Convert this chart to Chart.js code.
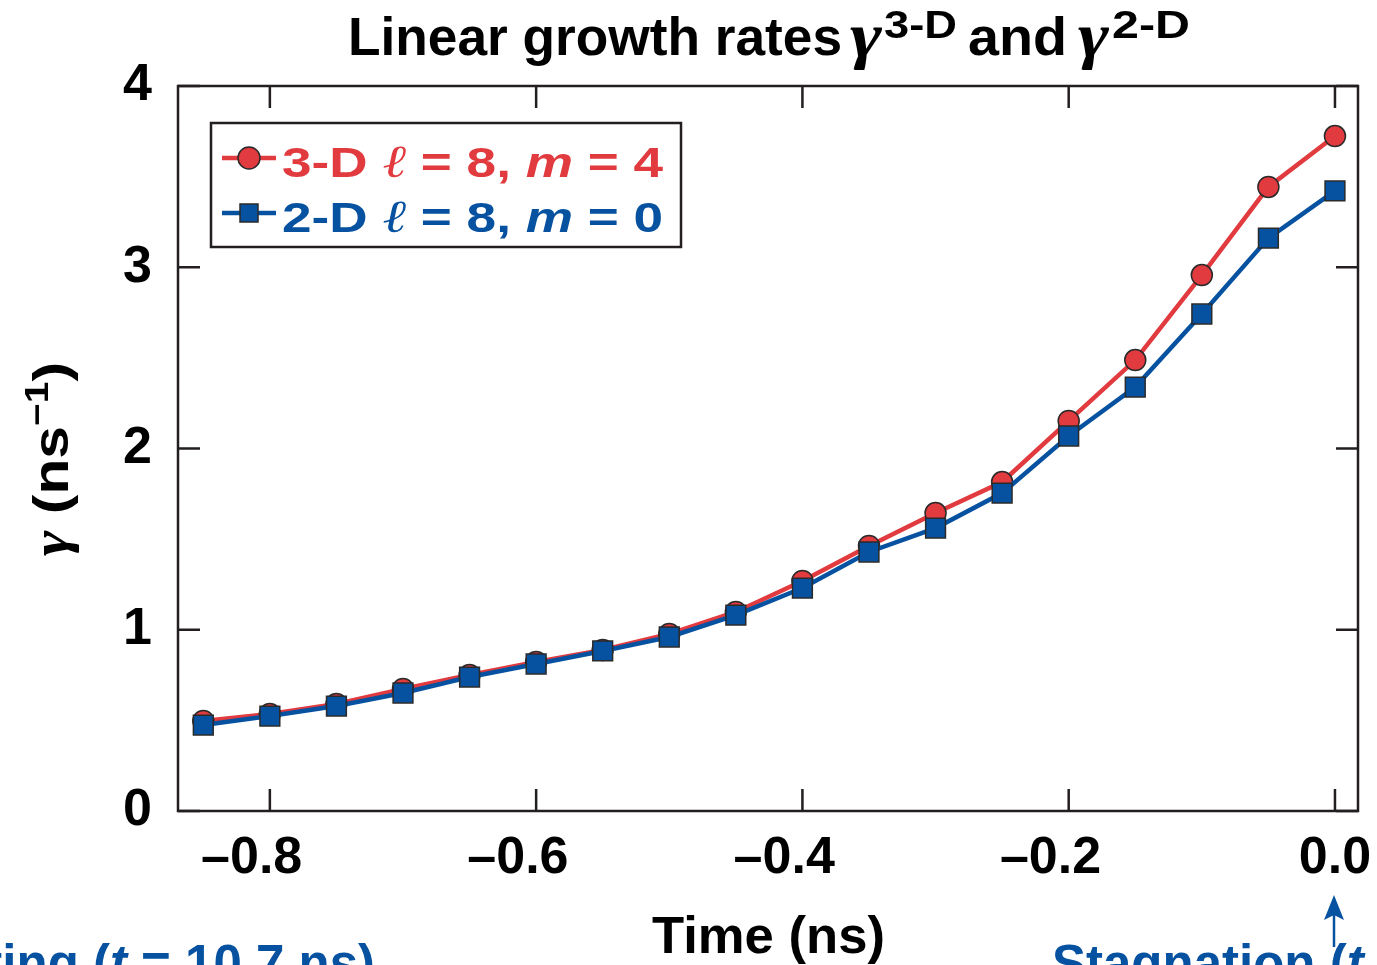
<!DOCTYPE html>
<html><head><meta charset="utf-8">
<script src="https://cdn.jsdelivr.net/npm/chart.js@4.4.1/dist/chart.umd.min.js"></script>
<style>html,body{margin:0;padding:0;background:#fff;}#wrap{width:1377px;height:965px;}</style>
</head><body><div id="wrap"><canvas id="c" width="1377" height="965"></canvas></div>
<script>
const timeNs  = [-0.85,-0.80,-0.75,-0.70,-0.65,-0.60,-0.55,-0.50,-0.45,-0.40,-0.35,-0.30,-0.25,-0.20,-0.15,-0.10,-0.05,0.00];
const gamma3D = [0.497,0.535,0.590,0.673,0.750,0.822,0.888,0.977,1.098,1.269,1.462,1.644,1.815,2.152,2.488,2.957,3.443,3.724];
const gamma2D = [0.474,0.524,0.579,0.651,0.739,0.811,0.883,0.960,1.081,1.230,1.429,1.561,1.754,2.069,2.339,2.742,3.161,3.421];
const xTickValues = [-0.8,-0.6,-0.4,-0.2,0.0];
const yTickValues = [0,1,2,3,4];
const xRange = [-0.869, 0.0173];
const yRange = [0, 4];

const RED = '#E13A3F', BLUE = '#0652A0', EDGE = '#2a2a2a', INK = '#000';
const SANS = "'Liberation Sans', Arial, sans-serif";
const SERIF = "'Liberation Serif', 'Times New Roman', serif";

function richWidth(ctx, parts){let w=0;for(const p of parts){ctx.font=p.font;w+=ctx.measureText(p.t).width;}return w;}
function drawRich(ctx, parts, x, y, targetW, align){
  const nat = richWidth(ctx, parts);
  const sx = targetW ? targetW/nat : 1;
  ctx.save(); ctx.translate(x,y); ctx.scale(sx,1);
  if (align==='right') ctx.translate(-nat,0);
  ctx.textBaseline='alphabetic'; ctx.textAlign='left';
  let cx=0;
  for(const p of parts){ctx.font=p.font;ctx.fillStyle=p.color;ctx.fillText(p.t,cx,p.dy||0);cx+=ctx.measureText(p.t).width;}
  ctx.restore();
}
const B = s => `bold ${s}px ${SANS}`;
const BI = s => `italic bold ${s}px ${SANS}`;
const GI = s => `italic bold ${s}px ${SERIF}`;
const LI = s => `italic ${s}px ${SERIF}`;

const decor = {
  id:'decor',
  beforeDatasetsDraw(chart){
    const {ctx, chartArea:a, scales:{x,y}} = chart;
    ctx.save();
    ctx.strokeStyle='#231f20'; ctx.lineWidth=2.5;
    ctx.strokeRect(a.left,a.top,a.right-a.left,a.bottom-a.top);
    const L=22;
    ctx.beginPath();
    for(const v of xTickValues){const px=x.getPixelForValue(v);ctx.moveTo(px,a.bottom);ctx.lineTo(px,a.bottom-L);ctx.moveTo(px,a.top);ctx.lineTo(px,a.top+L);}
    for(const v of yTickValues){const py=y.getPixelForValue(v);ctx.moveTo(a.left,py);ctx.lineTo(a.left+L,py);ctx.moveTo(a.right,py);ctx.lineTo(a.right-L,py);}
    ctx.stroke();
    ctx.restore();
  },
  afterDatasetsDraw(chart){
    const {ctx} = chart;
    ctx.save();
    // title
    drawRich(ctx,[{t:'Linear growth rates',font:B(53),color:INK}],348,55,494);
    drawRich(ctx,[{t:'γ',font:GI(64),color:INK}],850,56,32);
    drawRich(ctx,[{t:'3-D',font:B(38),color:INK}],884,38,73);
    drawRich(ctx,[{t:'and',font:B(53),color:INK}],968,55,99);
    drawRich(ctx,[{t:'γ',font:GI(64),color:INK}],1078,56,31);
    drawRich(ctx,[{t:'2-D',font:B(38),color:INK}],1112,38,78);
    // y axis title
    ctx.save(); ctx.translate(68,556); ctx.rotate(-Math.PI/2);
    drawRich(ctx,[
      {t:'γ',font:GI(52),color:INK},
      {t:' (ns',font:B(50),color:INK},
      {t:'−1',font:B(33),color:INK,dy:-20},
      {t:')',font:B(50),color:INK}
    ],0,0,194);
    ctx.restore();
    // x axis title
    drawRich(ctx,[{t:'Time (ns)',font:B(52),color:INK}],652,953,233);
    // legend
    ctx.fillStyle='#fff'; ctx.fillRect(211,123,470,124);
    ctx.strokeStyle='#231f20'; ctx.lineWidth=2.5; ctx.strokeRect(211,123,470,124);
    ctx.lineWidth=4.5;
    ctx.strokeStyle=RED; ctx.beginPath(); ctx.moveTo(222,158); ctx.lineTo(276,158); ctx.stroke();
    ctx.fillStyle=RED; ctx.strokeStyle=EDGE; ctx.lineWidth=1.5;
    ctx.beginPath(); ctx.arc(249,158,11,0,Math.PI*2); ctx.fill(); ctx.stroke();
    ctx.lineWidth=4.5; ctx.strokeStyle=BLUE; ctx.beginPath(); ctx.moveTo(222,213); ctx.lineTo(276,213); ctx.stroke();
    ctx.fillStyle=BLUE; ctx.strokeStyle=EDGE; ctx.lineWidth=1.5;
    ctx.fillRect(240,204,18,18); ctx.strokeRect(240,204,18,18);
    drawRich(ctx,[
      {t:'3-D ',font:B(43),color:RED},{t:'ℓ',font:LI(46),color:RED},
      {t:' = 8, ',font:B(43),color:RED},{t:'m',font:BI(43),color:RED},{t:' = 4',font:B(43),color:RED}
    ],282,177,381);
    drawRich(ctx,[
      {t:'2-D ',font:B(43),color:BLUE},{t:'ℓ',font:LI(46),color:BLUE},
      {t:' = 8, ',font:B(43),color:BLUE},{t:'m',font:BI(43),color:BLUE},{t:' = 0',font:B(43),color:BLUE}
    ],282,232,381);
    // bottom annotations
    drawRich(ctx,[
      {t:'Start of coasting (',font:B(51),color:BLUE},{t:'t',font:BI(51),color:BLUE},{t:' = 10.7 ns)',font:B(51),color:BLUE}
    ],375,981,null,'right');
    drawRich(ctx,[{t:'Stagnation (',font:B(51),color:BLUE},{t:'t',font:BI(51),color:BLUE},{t:' = 11.55 ns)',font:B(51),color:BLUE}],1052,981,null);
    ctx.strokeStyle=BLUE; ctx.fillStyle=BLUE; ctx.lineWidth=2.5;
    ctx.beginPath(); ctx.moveTo(1334,947); ctx.lineTo(1334,912); ctx.stroke();
    ctx.beginPath(); ctx.moveTo(1334,895); ctx.lineTo(1344,920); ctx.lineTo(1334,915); ctx.lineTo(1324,920); ctx.closePath(); ctx.fill();
    ctx.restore();
  }
};

const tickFont = {family:SANS, size:52, weight:'bold'};
new Chart(document.getElementById('c'),{
  type:'line',
  data:{datasets:[
    {label:'3-D ℓ = 8, m = 4',data:timeNs.map((t,i)=>({x:t,y:gamma3D[i]})),borderColor:RED,backgroundColor:RED,
     pointBackgroundColor:RED,pointBorderColor:EDGE,pointBorderWidth:1.5,pointRadius:10.5,pointStyle:'circle',borderWidth:4.5,order:2},
    {label:'2-D ℓ = 8, m = 0',data:timeNs.map((t,i)=>({x:t,y:gamma2D[i]})),borderColor:BLUE,backgroundColor:BLUE,
     pointBackgroundColor:BLUE,pointBorderColor:EDGE,pointBorderWidth:1.5,pointRadius:14,pointStyle:'rect',borderWidth:4.5,order:1}
  ]},
  options:{
    responsive:false, animation:false, devicePixelRatio:1,
    layout:{padding:{top:86,right:19,left:0,bottom:0}},
    plugins:{legend:{display:false},title:{display:false},tooltip:{enabled:false}},
    scales:{
      x:{type:'linear',min:xRange[0],max:xRange[1],
        afterBuildTicks:s=>{s.ticks=xTickValues.map(v=>({value:v}));},
        afterFit:s=>{s.height=154;s.paddingLeft=0;s.paddingRight=0;},
        grid:{display:false,drawTicks:false},border:{display:false},
        ticks:{font:tickFont,color:'#000',padding:16,maxRotation:0,autoSkip:false,
          callback:v=>Math.abs(v)<1e-9?'0.0':'–'+Math.abs(v).toFixed(1)+'\u2002\u2009'}},
      y:{type:'linear',min:yRange[0],max:yRange[1],
        afterBuildTicks:s=>{s.ticks=yTickValues.map(v=>({value:v}));},
        afterFit:s=>{s.width=178;s.paddingTop=0;s.paddingBottom=0;},
        grid:{display:false,drawTicks:false},border:{display:false},
        ticks:{font:tickFont,color:'#000',padding:26,callback:v=>String(v)}}
    }
  },
  plugins:[decor]
});
</script></body></html>
